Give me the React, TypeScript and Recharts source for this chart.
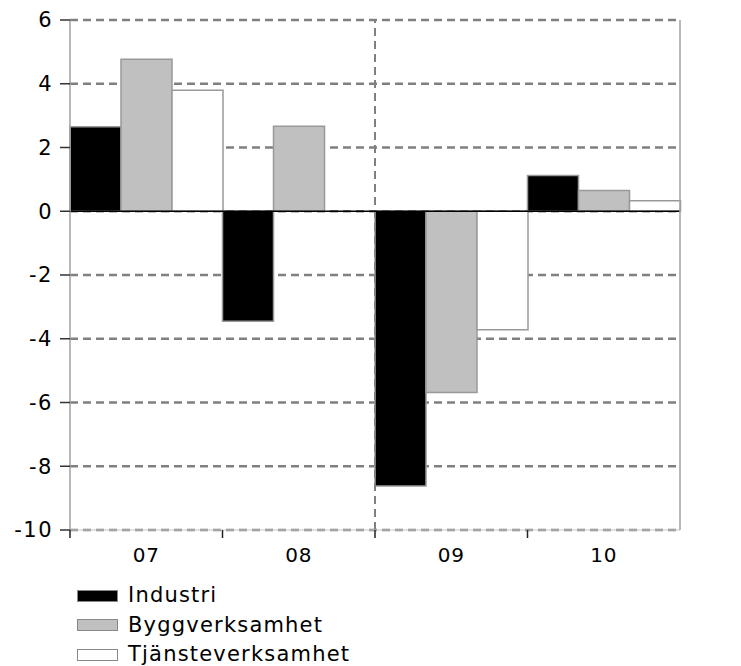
import React from 'react';
import {
  BarChart,
  Bar,
  XAxis,
  YAxis,
  CartesianGrid,
  ReferenceLine,
} from 'recharts';

// Kvartal/år på x-axeln
const categories = ['07', '08', '09', '10'];
const industri = [2.65, -3.45, -8.62, 1.12];
const bygg = [4.77, 2.67, -5.69, 0.65];
const tjanste = [3.8, 0, -3.72, 0.33];
const yTicks = [-10, -8, -6, -4, -2, 0, 2, 4, 6];

const series = [
  { key: 'industri', name: 'Industri', fill: '#000000' },
  { key: 'bygg', name: 'Byggverksamhet', fill: '#c0c0c0' },
  { key: 'tjanste', name: 'Tjänsteverksamhet', fill: '#ffffff' },
];

const data = categories.map((c, i) => ({
  cat: c,
  industri: industri[i],
  bygg: bygg[i],
  tjanste: tjanste[i],
}));

const FONT = '"DejaVu Sans", Verdana, sans-serif';
const W = 741;
const H = 666;
const LEFT_W = 70;
const RIGHT_W = 61;
const BAND = (W - LEFT_W - RIGHT_W) / categories.length;

// x-etikett i mitten, tickstreck vid kategorins vänsterkant
const XTick = (props: any) => {
  const { x, y, payload } = props;
  const edge = x - BAND / 2;
  const axisY = y - 18;
  return (
    <g>
      <line x1={edge} x2={edge} y1={axisY} y2={axisY + 8} stroke="#222" strokeWidth={1.5} />
      <text x={x} y={y} dy="0.71em" textAnchor="middle" fontSize={20} fontFamily={FONT} fill="#000" letterSpacing={0.8}>
        {payload.value}
      </text>
    </g>
  );
};

const YTick = (props: any) => {
  const { x, y, payload, anchor } = props;
  return (
    <text x={x} y={y} dy="0.355em" textAnchor={anchor} fontSize={21} fontFamily={FONT} fill="#000" letterSpacing={1.5}>
      {payload.value}
    </text>
  );
};

export default function App() {
  return (
    <div style={{ position: 'absolute', left: 0, top: 0, width: W, height: H, background: '#fff', fontFamily: FONT }}>
      <BarChart
        width={W}
        height={H}
        data={data}
        margin={{ top: 20, right: 0, bottom: 96, left: 0 }}
        barCategoryGap={0}
        barGap={0}
      >
        <CartesianGrid
          vertical={false}
          stroke="#808080"
          strokeWidth={2.5}
          strokeDasharray="8 5"
        />
        <XAxis
          dataKey="cat"
          height={40}
          axisLine={{ stroke: '#c8c8c8', strokeWidth: 1 }}
          tickLine={false}
          tickSize={0}
          tickMargin={18}
          tick={<XTick />}
          interval={0}
        />
        <YAxis
          domain={[-10, 6]}
          ticks={yTicks}
          width={LEFT_W}
          tickSize={10}
          tickMargin={7}
          interval={0}
          axisLine={{ stroke: '#a0a0a0', strokeWidth: 1.5 }}
          tickLine={{ stroke: '#333', strokeWidth: 1.5 }}
          tick={<YTick anchor="end" />}
        />
        <YAxis
          yAxisId="right"
          orientation="right"
          domain={[-10, 6]}
          ticks={yTicks}
          width={RIGHT_W}
          tickSize={10}
          tickMargin={6}
          interval={0}
          axisLine={{ stroke: '#a0a0a0', strokeWidth: 1.5 }}
          tickLine={{ stroke: '#333', strokeWidth: 1.5 }}
          tick={<YTick anchor="start" />}
        />
        <ReferenceLine
          x="09"
          position="start"
          stroke="#808080"
          strokeWidth={2}
          strokeDasharray="8 5"
        />
        {series.map(s => (
          <Bar
            key={s.key}
            dataKey={s.key}
            name={s.name}
            fill={s.fill}
            stroke="#999"
            strokeWidth={1.5}
            isAnimationActive={false}
          />
        ))}
        <ReferenceLine y={0} stroke="#000" strokeWidth={1.5} />
      </BarChart>

      {/* förklaring */}
      <div style={{ position: 'absolute', left: 77, top: 581 }}>
        {series.map(s => (
          <div key={s.key} style={{ display: 'flex', alignItems: 'center', height: 29.5 }}>
            <span
              style={{
                display: 'inline-block',
                width: 39,
                height: 10,
                background: s.fill,
                border: '1px solid #888',
                marginRight: 10,
              }}
            />
            <span style={{ fontSize: 21, letterSpacing: 1.2, color: '#000', lineHeight: 1 }}>{s.name}</span>
          </div>
        ))}
      </div>
    </div>
  );
}
